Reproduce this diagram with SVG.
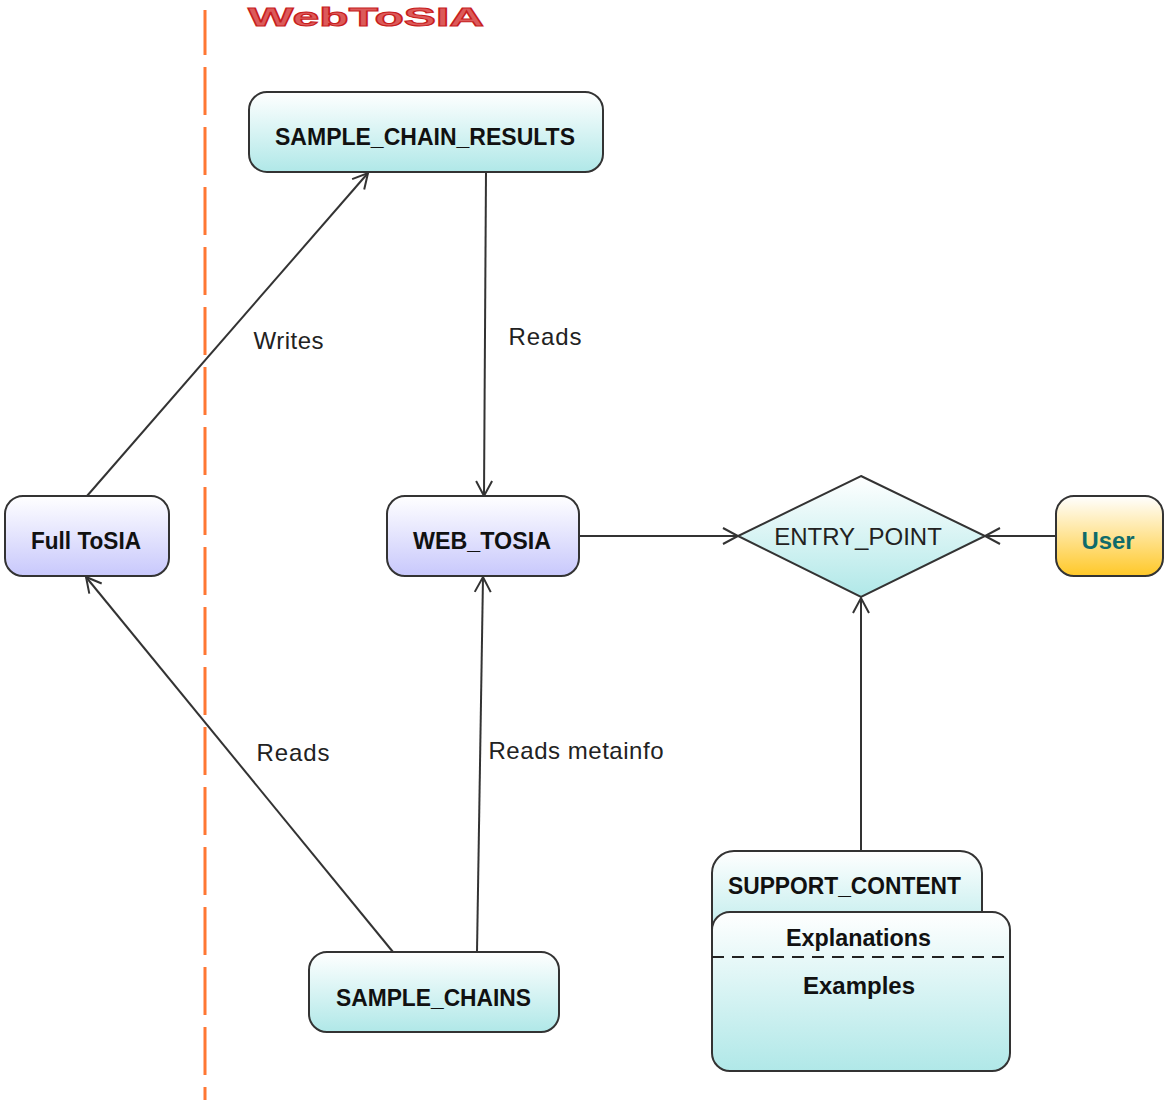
<svg xmlns="http://www.w3.org/2000/svg" width="1164" height="1102" viewBox="0 0 1164 1102">
<style>
text{font-family:"Liberation Sans",Arial,sans-serif;fill:#111;text-anchor:middle}
.b{font-weight:bold;font-size:23.3px}
.l{font-size:24px;fill:#222}
.s{stroke:#333;stroke-width:2}
.c{fill:none;stroke:#333;stroke-width:2}
</style>
<defs>
<linearGradient id="t" x1="0" y1="0" x2="0" y2="1"><stop offset="0" stop-color="#fff"/><stop offset="1" stop-color="#b0e8e8"/></linearGradient>
<linearGradient id="p" x1="0" y1="0" x2="0" y2="1"><stop offset="0" stop-color="#fff"/><stop offset="1" stop-color="#c8c8fc"/></linearGradient>
<linearGradient id="y" x1="0" y1="0" x2="0" y2="1"><stop offset="0" stop-color="#fff"/><stop offset="1" stop-color="#ffc828"/></linearGradient>
<marker id="a" markerUnits="userSpaceOnUse" markerWidth="20" markerHeight="20" refX="16" refY="10" orient="auto"><path d="M1 2 16 10 1 18" fill="none" stroke="#333" stroke-width="2"/></marker>
</defs>
<g id="boundary"><line x1="205" y1="10" x2="205" y2="1100" stroke="#ff7733" stroke-width="3" stroke-dasharray="48 12" stroke-dashoffset="3"/></g>
<g id="title"><text x="366" y="26" font-size="26" font-weight="bold" textLength="236" lengthAdjust="spacingAndGlyphs" style="fill:#dc5a5a;stroke:#c81e1e;stroke-width:1">WebToSIA</text></g>
<g id="connectors">
<line class="c" x1="87" y1="496" x2="368" y2="173" marker-end="url(#a)"/>
<line class="c" x1="486" y1="172" x2="484" y2="496" marker-end="url(#a)"/>
<line class="c" x1="393" y1="952" x2="86" y2="577" marker-end="url(#a)"/>
<line class="c" x1="477" y1="952" x2="483" y2="577" marker-end="url(#a)"/>
<line class="c" x1="580" y1="536" x2="738" y2="536" marker-end="url(#a)"/>
<line class="c" x1="1055" y1="536" x2="985" y2="536" marker-end="url(#a)"/>
<line class="c" x1="861" y1="851" x2="861" y2="598" marker-end="url(#a)"/>
<text class="l" x="288.500" y="349" textLength="70">Writes</text>
<text class="l" x="545" y="345" textLength="73">Reads</text>
<text class="l" x="293" y="761" textLength="73">Reads</text>
<text class="l" x="576" y="759" textLength="175">Reads metainfo</text>
</g>
<g id="sample-chain-results"><rect class="s" x="249" y="92" width="354" height="80" rx="18" fill="url(#t)"/><text class="b" x="425" y="145" textLength="300" lengthAdjust="spacingAndGlyphs">SAMPLE_CHAIN_RESULTS</text></g>
<g id="full-tosia"><rect class="s" x="5" y="496" width="164" height="80" rx="18" fill="url(#p)"/><text class="b" x="86" y="549" textLength="110" lengthAdjust="spacingAndGlyphs">Full ToSIA</text></g>
<g id="web-tosia"><rect class="s" x="387" y="496" width="192" height="80" rx="18" fill="url(#p)"/><text class="b" x="482" y="549" textLength="138" lengthAdjust="spacingAndGlyphs">WEB_TOSIA</text></g>
<g id="entry-point"><polygon class="s" points="861,476 985,536 861,597 738,536" fill="url(#t)"/><text x="858" y="545" font-size="24" style="fill:#222">ENTRY_POINT</text></g>
<g id="user"><rect class="s" x="1056" y="496" width="107" height="80" rx="18" fill="url(#y)"/><text class="b" x="1108" y="549" textLength="53" lengthAdjust="spacingAndGlyphs" style="fill:#0f6b6b">User</text></g>
<g id="sample-chains"><rect class="s" x="309" y="952" width="250" height="80" rx="18" fill="url(#t)"/><text class="b" x="433.500" y="1006" textLength="195" lengthAdjust="spacingAndGlyphs">SAMPLE_CHAINS</text></g>
<g id="support-content">
<rect class="s" x="712" y="851" width="270" height="100" rx="22" fill="url(#t)"/><text class="b" x="844.500" y="894" textLength="233" lengthAdjust="spacingAndGlyphs">SUPPORT_CONTENT</text>
<rect class="s" x="712" y="912" width="298" height="159" rx="18" fill="url(#t)"/>
<text class="b" x="858.500" y="946" textLength="145" lengthAdjust="spacingAndGlyphs">Explanations</text>
<line x1="712" y1="957" x2="1004" y2="957" stroke="#222" stroke-width="2" stroke-dasharray="12 8"/>
<text class="b" x="859" y="994" textLength="112" lengthAdjust="spacingAndGlyphs">Examples</text>
</g>
</svg>
